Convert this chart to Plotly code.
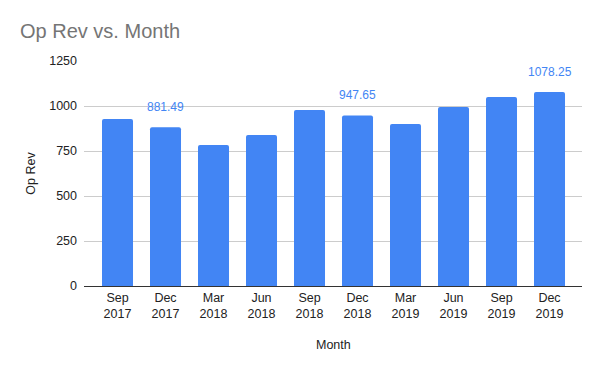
import plotly.graph_objects as go

months = ["Sep<br>2017", "Dec<br>2017", "Mar<br>2018", "Jun<br>2018", "Sep<br>2018",
          "Dec<br>2018", "Mar<br>2019", "Jun<br>2019", "Sep<br>2019", "Dec<br>2019"]
op_rev = [928, 881.49, 783, 839, 978, 947.65, 900, 994, 1050, 1078.25]
labeled = [1, 5, 9]
y_ticks = [0, 250, 500, 750, 1000, 1250]

BLUE = "#4285F4"
FONT = "Liberation Sans, Arial, sans-serif"

fig = go.Figure(go.Bar(x=list(range(len(months))), y=op_rev, marker_color=BLUE,
                       marker_line_width=0, marker_cornerradius=2, width=0.646))

for i in labeled:
    fig.add_annotation(x=i, y=op_rev[i], text=f"{op_rev[i]:.2f}", showarrow=False,
                       yshift=20, font=dict(family=FONT, size=12, color=BLUE))

fig.add_annotation(text="Op Rev", xref="paper", yref="paper", x=-0.108, y=0.5,
                   textangle=-90, showarrow=False, xanchor="center", yanchor="middle",
                   font=dict(family=FONT, size=12.5, color="#222222"))
fig.add_annotation(text="Month", xref="paper", yref="paper", x=0.5, y=-0.26,
                   showarrow=False, xanchor="center", yanchor="middle",
                   font=dict(family=FONT, size=12.5, color="#222222"))

fig.update_layout(
    width=600, height=371,
    margin=dict(l=84, r=18, t=61, b=85),
    paper_bgcolor="white", plot_bgcolor="white",
    title=dict(text="Op Rev vs. Month", x=20/600, xanchor="left", y=1-31/371, yanchor="middle",
               font=dict(family=FONT, size=20, color="#757575")),
    showlegend=False,
    xaxis=dict(tickmode="array", tickvals=list(range(len(months))), ticktext=months,
               range=[-0.698, 9.677], showgrid=False, showline=True, linecolor="#333333",
               linewidth=1, ticks="", tickfont=dict(family=FONT, size=12.5, color="#222222"),
               fixedrange=True),
    yaxis=dict(range=[0, 1250], tickvals=y_ticks, showgrid=True, gridcolor="#cccccc",
               zeroline=False, ticks="", tickfont=dict(family=FONT, size=12.5, color="#222222"),
               ticklabelstandoff=6),
)

fig.write_html("out.html", config={"displayModeBar": False},
               post_script="document.body.style.margin='0';")
